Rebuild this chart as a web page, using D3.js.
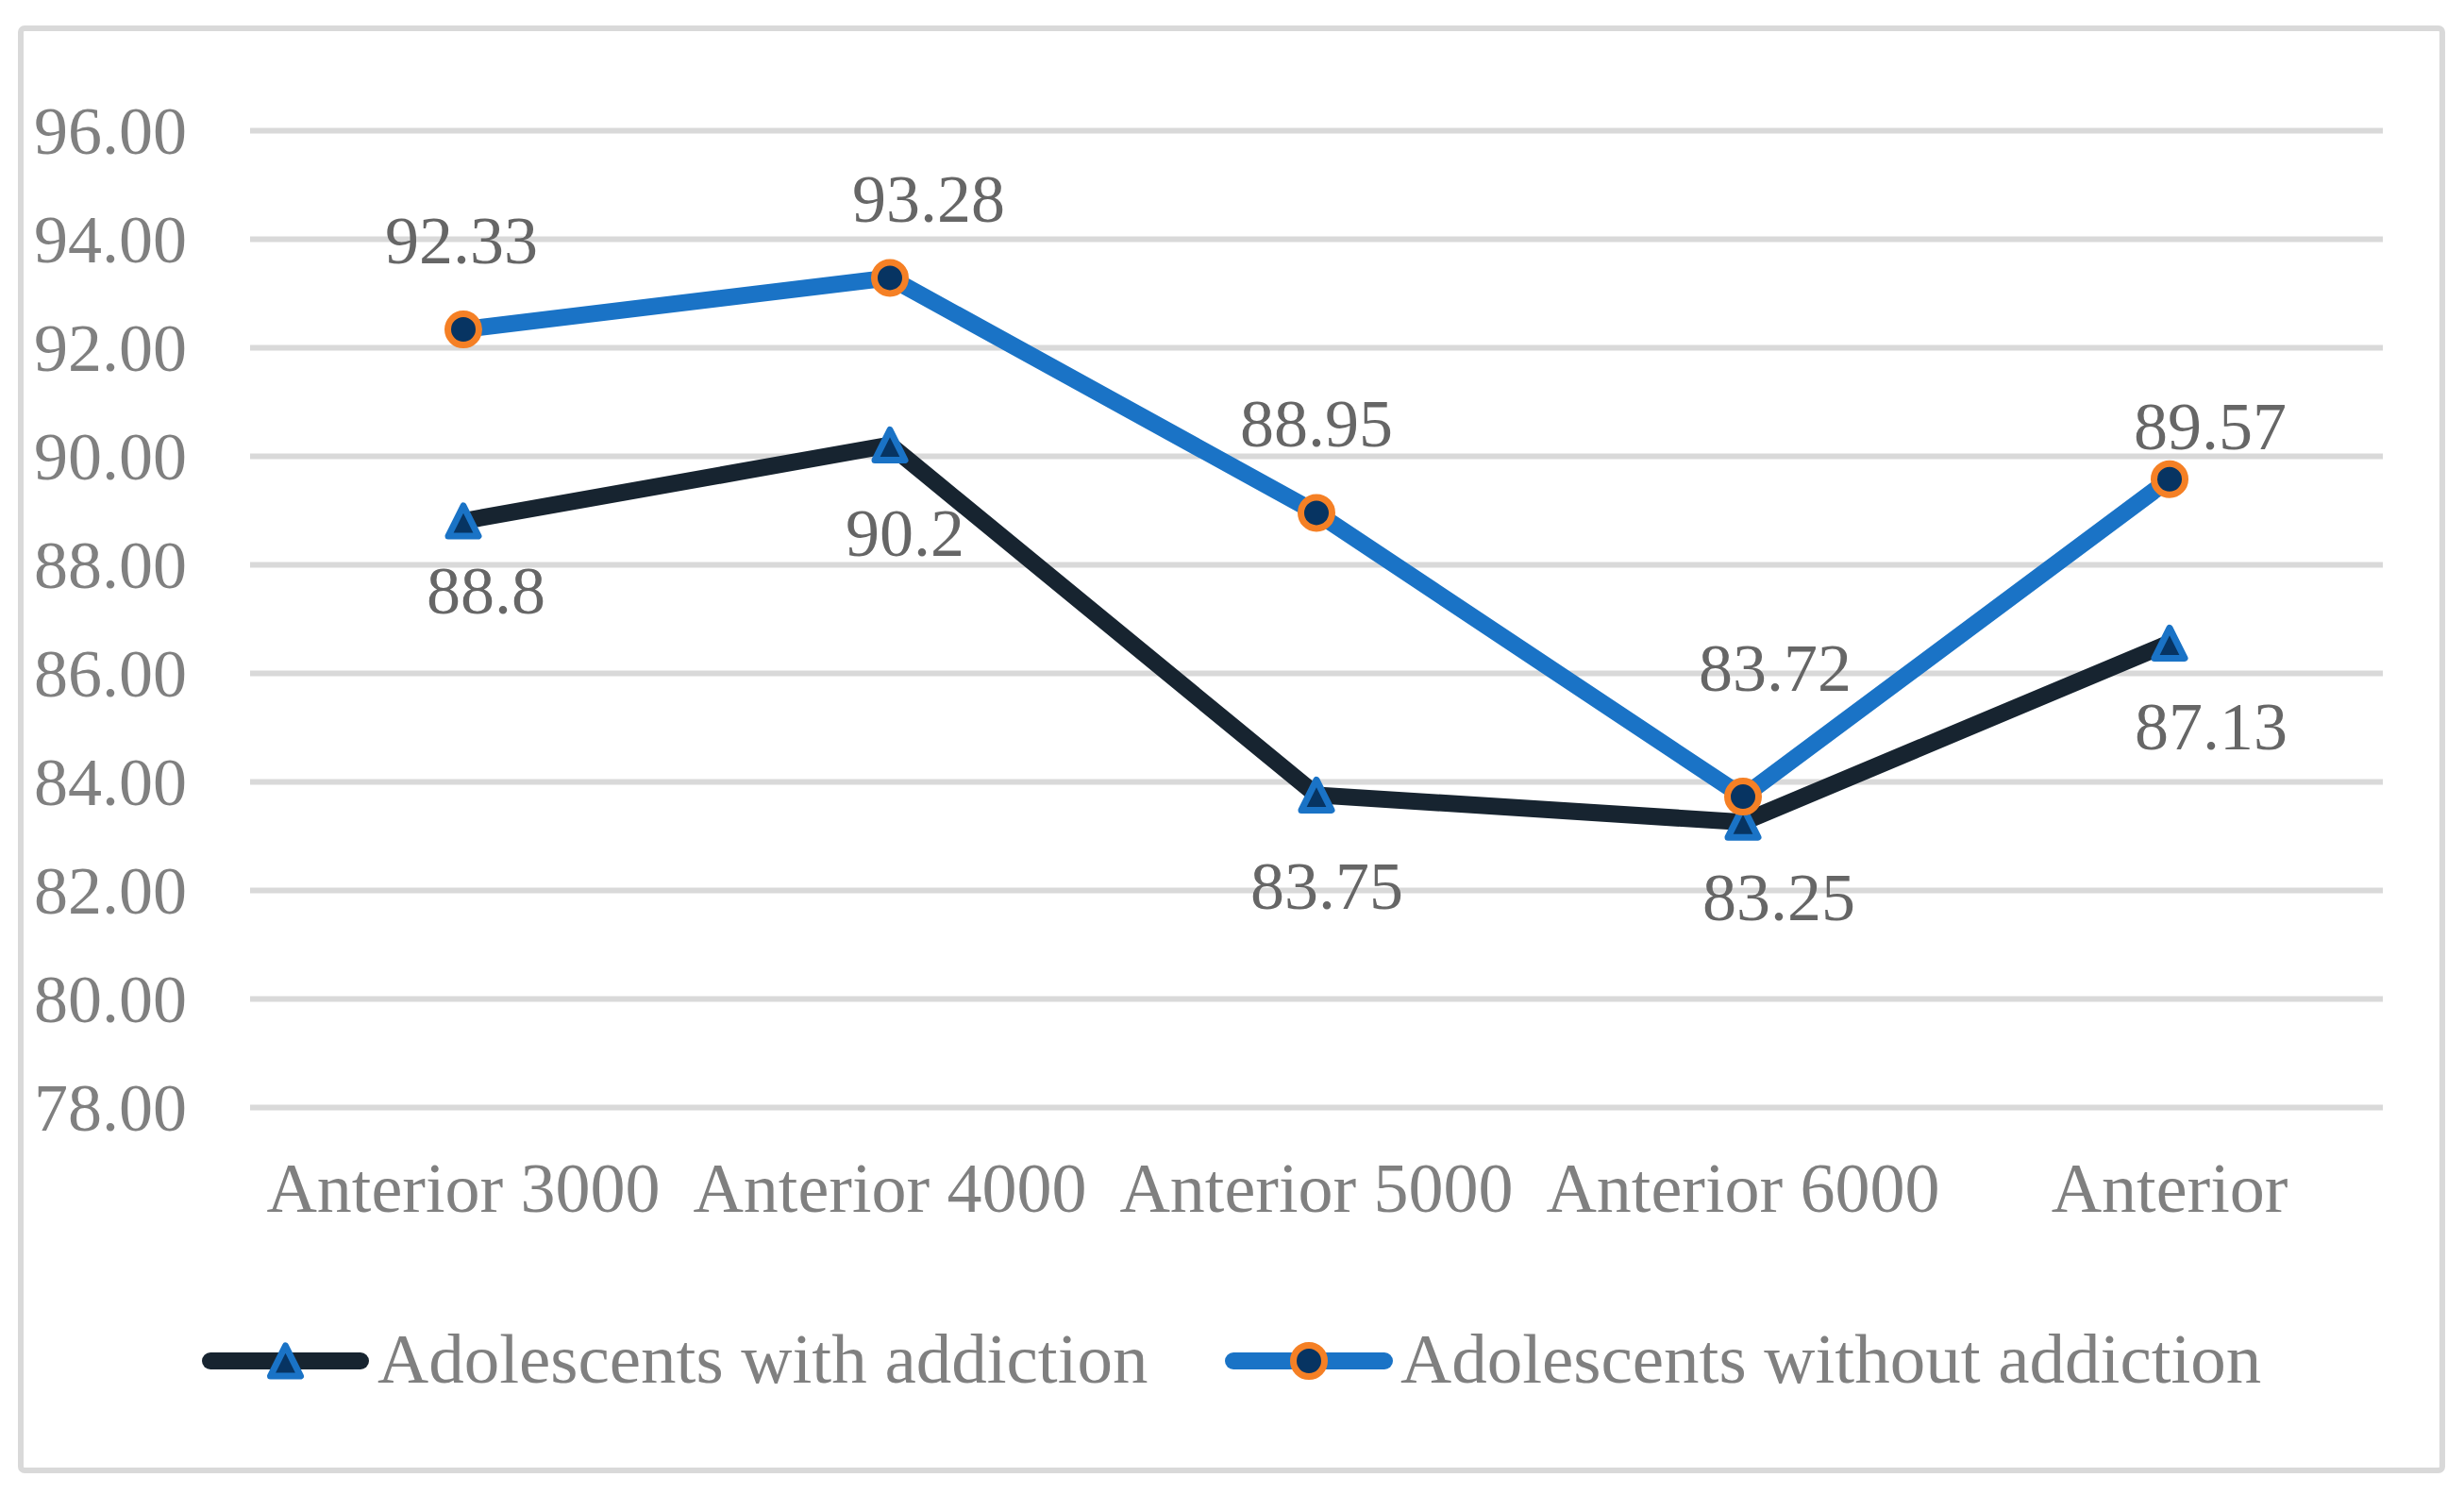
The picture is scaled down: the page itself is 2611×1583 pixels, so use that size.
<!DOCTYPE html>
<html>
<head>
<meta charset="utf-8">
<script src="https://cdn.jsdelivr.net/npm/d3@7/dist/d3.min.js"></script>
<style>
  html, body { margin: 0; padding: 0; background: #ffffff; }
  svg { display: block; }
  text { font-family: "Liberation Serif", "Times New Roman", "DejaVu Serif", serif; }
</style>
</head>
<body>
<script>
// ---------------- data ----------------
const categories = ["Anterior 3000", "Anterior 4000", "Anterior 5000", "Anterior 6000", "Anterior"];
const seriesNames = ["Adolescents with addiction", "Adolescents without addiction"];
const withAddiction = [88.8, 90.2, 83.75, 83.25, 86.55];
const withAddictionLabels = ["88.8", "90.2", "83.75", "83.25", "87.13"];
const withoutAddiction = [92.33, 93.28, 88.95, 83.72, 89.57];
const withoutAddictionLabels = ["92.33", "93.28", "88.95", "83.72", "89.57"];
const yTicks = [78, 80, 82, 84, 86, 88, 90, 92, 94, 96];

// ---------------- layout / style ----------------
const W = 2611, H = 1583;
const plot = { left: 265, right: 2525, top: 138, bottom: 1173 };
const labelNudge = {
  with:    { dx: [24, 16, 11, 38, 44],   dy: [98, 117, 121, 104, 113] },
  without: { dx: [-2, 41, 0, 34, 43],    dy: [-70, -59, -70, -112, -32] }
};
const colors = {
  black: "#172430", blue: "#1a73c6", navy: "#073462", orange: "#f58025",
  grid: "#d9d9d9", axisText: "#808080", labelText: "#666666"
};

const svg = d3.select("body").append("svg")
  .attr("width", W).attr("height", H);

svg.append("rect").attr("width", W).attr("height", H).attr("fill", "#fff");

// chart frame
svg.append("rect")
  .attr("x", 22).attr("y", 30).attr("width", 2588 - 22).attr("height", 1558 - 30)
  .attr("rx", 4)
  .attr("fill", "none").attr("stroke", colors.grid).attr("stroke-width", 6);

const x = d3.scaleBand().domain(categories).range([plot.left, plot.right]).padding(0);
const cx = c => x(c) + x.bandwidth() / 2;
const y = d3.scaleLinear().domain([78, 96]).range([plot.bottom, plot.top]);

// y axis with gridlines
const yAxis = svg.append("g")
  .attr("transform", `translate(${plot.left},0)`)
  .call(d3.axisLeft(y).tickValues(yTicks).tickFormat(d3.format(".2f"))
    .tickSize(-(plot.right - plot.left)).tickPadding(67));
yAxis.select(".domain").remove();
yAxis.selectAll(".tick line").attr("stroke", colors.grid).attr("stroke-width", 6);
yAxis.selectAll(".tick text")
  .attr("fill", colors.axisText).attr("font-size", 72)
  .attr("font-family", '"Liberation Serif", "Times New Roman", serif')
  .attr("dy", "0.34em");

// x axis (category labels)
const xAxis = svg.append("g")
  .attr("transform", `translate(0,${plot.bottom})`)
  .call(d3.axisBottom(x).tickSize(0).tickPadding(0));
xAxis.select(".domain").remove();
xAxis.selectAll(".tick text")
  .attr("fill", colors.axisText).attr("font-size", 74)
  .attr("font-family", '"Liberation Serif", "Times New Roman", serif')
  .attr("y", 111).attr("dy", 0);

// marker helpers
const tri = "M0,-16L16,16L-16,16Z";
function drawTriangle(g, px, py) {
  g.append("path").attr("d", tri).attr("transform", `translate(${px},${py})`)
    .attr("fill", colors.navy).attr("stroke", colors.blue)
    .attr("stroke-width", 7).attr("stroke-linejoin", "round");
}
function drawCircle(g, px, py) {
  g.append("circle").attr("cx", px).attr("cy", py).attr("r", 16.5)
    .attr("fill", colors.navy).attr("stroke", colors.orange).attr("stroke-width", 7);
}

const line = d3.line().x((d, i) => cx(categories[i])).y(d => y(d));

// series 1: with addiction
const g1 = svg.append("g");
g1.append("path").datum(withAddiction).attr("d", line)
  .attr("fill", "none").attr("stroke", colors.black).attr("stroke-width", 18)
  .attr("stroke-linejoin", "round").attr("stroke-linecap", "round");
withAddiction.forEach((v, i) => drawTriangle(g1, cx(categories[i]), y(v)));

// series 2: without addiction
const g2 = svg.append("g");
g2.append("path").datum(withoutAddiction).attr("d", line)
  .attr("fill", "none").attr("stroke", colors.blue).attr("stroke-width", 18)
  .attr("stroke-linejoin", "round").attr("stroke-linecap", "round");
withoutAddiction.forEach((v, i) => drawCircle(g2, cx(categories[i]), y(v)));

// data labels
const lbl = svg.append("g").attr("fill", colors.labelText).attr("font-size", 72)
  .attr("text-anchor", "middle");
withAddiction.forEach((v, i) => {
  lbl.append("text")
    .attr("x", cx(categories[i]) + labelNudge.with.dx[i])
    .attr("y", y(v) + labelNudge.with.dy[i])
    .text(withAddictionLabels[i]);
});
withoutAddiction.forEach((v, i) => {
  lbl.append("text")
    .attr("x", cx(categories[i]) + labelNudge.without.dx[i])
    .attr("y", y(v) + labelNudge.without.dy[i])
    .text(withoutAddictionLabels[i]);
});

// legend
const leg = svg.append("g");
const legendItems = [
  { name: seriesNames[0], x0: 214, x1: 391, color: colors.black, marker: "tri", tx: 400 },
  { name: seriesNames[1], x0: 1298, x1: 1476, color: colors.blue, marker: "circle", tx: 1484 }
];
const legY = 1442;
legendItems.forEach(it => {
  leg.append("line").attr("x1", it.x0 + 9).attr("x2", it.x1 - 9)
    .attr("y1", legY).attr("y2", legY)
    .attr("stroke", it.color).attr("stroke-width", 18).attr("stroke-linecap", "round");
  const mx = (it.x0 + it.x1) / 2;
  if (it.marker === "tri") drawTriangle(leg, mx, legY); else drawCircle(leg, mx, legY);
  leg.append("text").attr("x", it.tx).attr("y", 1465)
    .attr("fill", colors.axisText).attr("font-size", 75).text(it.name);
});
</script>
</body>
</html>
